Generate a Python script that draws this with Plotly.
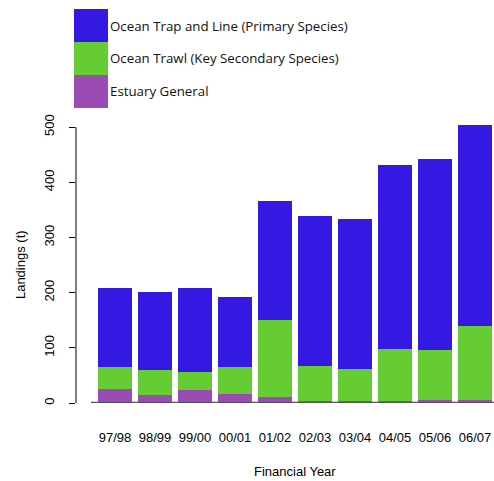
import plotly.graph_objects as go

years = ["97/98", "98/99", "99/00", "00/01", "01/02", "02/03", "03/04", "04/05", "05/06", "06/07"]
estuary_general = [25, 14, 23, 16, 10, 3, 3, 3, 5, 5]
ocean_trawl = [40, 45, 34, 49, 140, 64, 58, 94, 91, 134]
ocean_trap_line = [143, 142, 151, 127, 217, 272, 272, 335, 346, 364]
y_ticks = [0, 100, 200, 300, 400, 500]

series = [
    ("Estuary General", estuary_general, "#9b4cb3"),
    ("Ocean Trawl (Key Secondary Species)", ocean_trawl, "#66cc33"),
    ("Ocean Trap and Line (Primary Species)", ocean_trap_line, "#3419e3"),
]

W, H = 494, 481
ML, MR, MT, MB = 76, 0, 115, 78

fig = go.Figure()
for name, vals, col in series:
    fig.add_trace(go.Bar(x=list(range(len(years))), y=vals, name=name,
                         marker=dict(color=col, line=dict(width=0)), width=0.85))

fig.update_layout(
    width=W, height=H, barmode="stack", showlegend=False,
    margin=dict(l=ML, r=MR, t=MT, b=MB, autoexpand=False),
    plot_bgcolor="white", paper_bgcolor="white",
    font=dict(family="Liberation Sans, Arial, sans-serif", size=13, color="#000"),
    xaxis=dict(range=[-0.975, 9.475], tickmode="array", tickvals=list(range(len(years))),
               ticktext=years, ticks="outside", ticklen=22, tickcolor="rgba(0,0,0,0)",
               showgrid=False, zeroline=False, showline=False, automargin=False,
               tickfont=dict(size=13)),
    yaxis=dict(range=[0, 522], tickmode="array", tickvals=y_ticks,
               ticks="outside", ticklen=6, tickcolor="#000", tickwidth=1,
               tickangle=-90, ticklabelstandoff=10, automargin=False,
               showgrid=False, zeroline=False, showline=False,
               tickfont=dict(size=13)),
)

# baseline under bars
fig.add_shape(type="line", xref="x", yref="y", x0=-0.6, x1=9.475, y0=0, y1=0,
              line=dict(color="#555", width=2.5))
# y axis line 0..500
fig.add_shape(type="line", xref="paper", yref="y", x0=0, x1=0, y0=0, y1=500,
              line=dict(color="#000", width=1))

# axis titles
fig.add_annotation(text="Financial Year", xref="x", yref="paper", x=4.5, y=-(471 - 403) / (H - MT - MB),
                   showarrow=False, font=dict(size=13), yanchor="middle")
fig.add_annotation(text="Landings (t)", xref="paper", yref="y", x=-(ML - 20) / (W - ML - MR), y=250,
                   showarrow=False, textangle=-90, font=dict(size=13), xanchor="center")

# legend boxes (drawn in pixel-like paper coords)
pw = W - ML - MR
ph = H - MT - MB
def px(xp):
    return (xp - ML) / pw
def py(yp):
    return (H - MB - yp) / ph

legend_items = [series[2], series[1], series[0]]
for i, (name, vals, col) in enumerate(legend_items):
    y0 = 9 + 33 * i
    fig.add_shape(type="rect", xref="paper", yref="paper", x0=px(74), x1=px(108),
                  y0=py(y0 + 33), y1=py(y0), fillcolor=col, line=dict(width=0))
    fig.add_annotation(text=name, xref="paper", yref="paper", x=px(108), y=py(y0 + 16.5),
                       xanchor="left", yanchor="middle", showarrow=False,
                       font=dict(family="Open Sans, sans-serif", size=13.3, color="#111"))

fig.write_html("out.html", config={"displayModeBar": False},
               post_script="document.body.style.margin='0';document.body.style.padding='0';")
